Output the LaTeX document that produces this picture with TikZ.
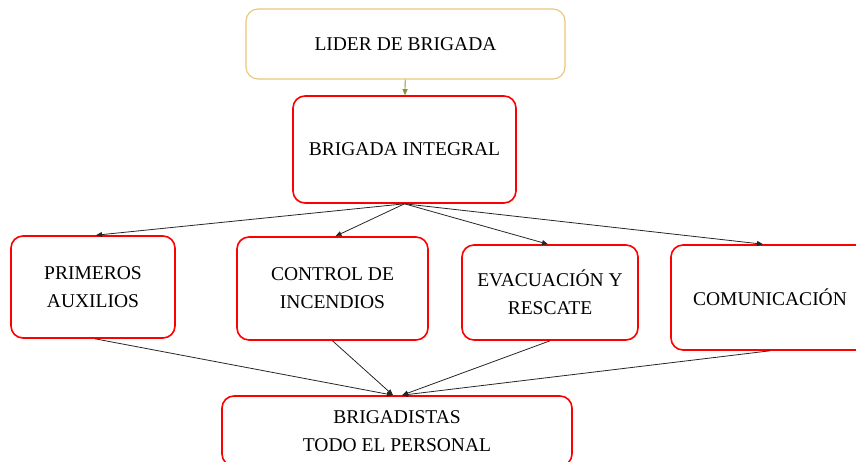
\documentclass[tikz,border=0pt]{standalone}
\usepackage{fontspec}
\setmainfont{Liberation Serif}
\usetikzlibrary{positioning, arrows.meta}

\begin{document}
\begin{tikzpicture}[
    x=1pt, y=-1pt,
    every node/.style={font=\fontsize{19.5}{28}\selectfont},
    block/.style={rectangle, draw=red, line width=1.6pt, rounded corners=12pt, align=center, inner sep=0pt},
    topblock/.style={block, draw={rgb,255:red,230;green,198;blue,122}, line width=1.1pt},
    link/.style={-{Triangle[length=6pt, width=5pt]}, line width=0.8pt, draw=black!85},
]
\useasboundingbox (0,0) rectangle (856,462);

% Nodes
\node [topblock, minimum width=319pt, minimum height=70pt] (lider) at (405.5,44) {LIDER DE BRIGADA};
\node [block, minimum width=223pt, minimum height=107pt] (integral) at (404.5,149.5) {BRIGADA INTEGRAL};
\node [block, minimum width=164pt, minimum height=102pt] (primeros) at (93,287) {PRIMEROS\\AUXILIOS};
\node [block, minimum width=191pt, minimum height=103pt] (control) at (332.5,288.5) {CONTROL DE\\INCENDIOS};
\node [block, minimum width=176pt, minimum height=95pt] (evac) at (550,292.5) {EVACUACIÓN Y\\RESCATE};
\node [block, minimum width=198pt, minimum height=105pt] (comun) at (770,297.5) {COMUNICACIÓN};
\node [block, minimum width=350pt, minimum height=70pt] (brig) at (397,431) {BRIGADISTAS\\TODO EL PERSONAL};

% Lines
\draw [link, draw={rgb,255:red,128;green,150;blue,48}] (lider) -- (integral);
\draw [link] (integral.south) -- ([xshift=3pt]primeros.north);
\draw [link] (integral.south) -- ([xshift=3pt]control.north);
\draw [link] (integral.south) -- ([xshift=-2pt]evac.north);
\draw [link] (integral.south) -- ([xshift=-7pt]comun.north);
\draw [link] ([xshift=2pt]primeros.south) -- ([xshift=-4pt]brig.north);
\draw [link] (control.south) -- ([xshift=-4pt]brig.north);
\draw [link] (evac.south) -- ([xshift=5pt]brig.north);
\draw [link] (comun.south) -- ([xshift=5pt]brig.north);

\end{tikzpicture}
\end{document}
